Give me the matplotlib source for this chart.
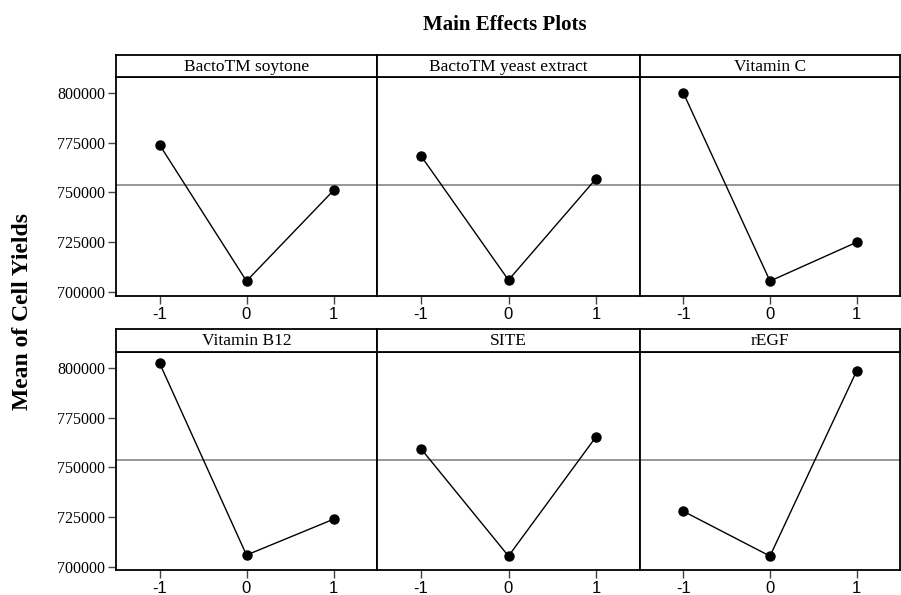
import matplotlib.pyplot as plt
import numpy as np

plt.rcParams['font.family'] = ['Liberation Serif', 'DejaVu Serif']

factors = ["BactoTM soytone", "BactoTM yeast extract", "Vitamin C",
           "Vitamin B12", "SITE", "rEGF"]
levels = [-1, 0, 1]
means = [
    [774000, 705500, 751000],
    [768500, 706000, 757000],
    [800000, 705500, 725000],
    [802500, 706000, 724000],
    [759500, 705500, 765500],
    [728000, 705500, 798500],
]
grand_mean = 754000
yticks = [700000, 725000, 750000, 775000, 800000]

W, H = 901, 595
fig = plt.figure(figsize=(W / 100, H / 100), dpi=100)

col_x = [116, 377, 640, 900]
rows = [(55, 77, 296), (329, 352, 570)]  # strip top, plot top, plot bottom
px_per_unit = 219 / 110000


def box(x0, x1, y0, y1):
    return [x0 / W, 1 - y1 / H, (x1 - x0) / W, (y1 - y0) / H]


for i, (name, vals) in enumerate(zip(factors, means)):
    r, c = divmod(i, 3)
    st, pt, pb = rows[r]
    x0, x1 = col_x[c], col_x[c + 1]

    ax = fig.add_axes(box(x0, x1, pt, pb))
    ax.axhline(grand_mean, color="#858585", lw=1.2, zorder=1)
    ax.plot(levels, vals, color="black", lw=1.0, marker="o", ms=6.5, zorder=3)
    ax.set_xlim(-1.5, 1.5)
    ax.set_ylim(808000 - (pb - pt) / px_per_unit, 808000)
    ax.set_xticks(levels)
    ax.set_xticklabels(["-1", "0", "1"], fontsize=12, family="Liberation Sans")
    ax.set_yticks(yticks)
    if c == 0:
        ax.set_yticklabels([str(v) for v in yticks], fontsize=11.5)
    else:
        ax.tick_params(axis="y", left=False, labelleft=False)
    ax.tick_params(direction="out", length=6, width=1, color="#444444", pad=2)
    for s in ax.spines.values():
        s.set_linewidth(1.3)

    sax = fig.add_axes(box(x0, x1, st, pt))
    sax.set_xticks([])
    sax.set_yticks([])
    for s in sax.spines.values():
        s.set_linewidth(1.3)
    sax.text(0.5, 0.47, name, ha="center", va="center", fontsize=12.5,
             transform=sax.transAxes)

fig.text(505 / W, 1 - 25 / H, "Main Effects Plots", ha="center", va="center",
         fontsize=15, fontweight="bold")
fig.text(23 / W, 1 - 311 / H, "Mean of Cell Yields", ha="center", va="center",
         rotation=90, fontsize=17, fontweight="bold")

fig.savefig("out.png", dpi=100)
